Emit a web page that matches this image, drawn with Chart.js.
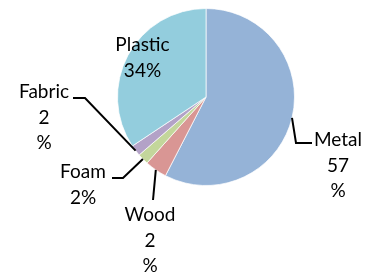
<!DOCTYPE html>
<html><head><meta charset="utf-8">
<script src="https://cdn.jsdelivr.net/npm/chart.js@4/dist/chart.umd.min.js"></script>
<style>html,body{margin:0;padding:0;background:#fff;}#wrap{width:372px;height:273px;}</style>
</head><body><div id="wrap"><canvas id="c" width="372" height="273"></canvas></div>
<script>
const categories = ['Metal', 'Wood', 'Foam', 'Fabric', 'Plastic'];
const values = [57, 4, 2, 2, 34];
const pctLabels = [['Metal', '57', '%'], ['Wood', '2', '%'], ['Foam', '2%'], ['Fabric', '2', '%'], ['Plastic', '34%']];
const colors = ['#95B3D7', '#D99694', '#C3D69B', '#B3A2C7', '#93CDDD'];

// label placement (first line, relative to pie centre) and leader elbow
const labelPos = [
  {x: 132, y: 43, elbow: [{x: 90, y: 46}, {x: 106, y: 46}]},
  {x: -56, y: 118, elbow: [{x: -53, y: 103}]},
  {x: -123, y: 75, elbow: [{x: -83, y: 81}, {x: -94, y: 81}]},
  {x: -162, y: -5, elbow: [{x: -121, y: 1}, {x: -133, y: 1}]},
  {x: -63.5, y: -52, elbow: null}
];

const labelPlugin = {
  id: 'labels',
  afterDatasetsDraw(chart) {
    const ctx = chart.ctx;
    const meta = chart.getDatasetMeta(0);
    ctx.save();
    ctx.font = '19px Lato, "Open Sans", sans-serif';
    ctx.fillStyle = '#000';
    ctx.textAlign = 'center';
    ctx.textBaseline = 'middle';
    meta.data.forEach((arc, i) => {
      const cx = arc.x, cy = arc.y;
      const mid = (arc.startAngle + arc.endAngle) / 2;
      const r = arc.outerRadius;
      const lp = labelPos[i];
      if (lp.elbow) {
        ctx.beginPath();
        ctx.strokeStyle = '#000';
        ctx.lineWidth = 2;
        ctx.moveTo(cx + Math.cos(mid) * r, cy + Math.sin(mid) * r);
        lp.elbow.forEach(p => ctx.lineTo(cx + p.x, cy + p.y));
        ctx.stroke();
      }
      const lines = pctLabels[i];
      const lh = 25.5;
      lines.forEach((t, k) => ctx.fillText(t, cx + lp.x, cy + lp.y + k * lh));
    });
    ctx.restore();
  }
};

new Chart(document.getElementById('c'), {
  type: 'pie',
  data: {
    labels: categories,
    datasets: [{data: values, backgroundColor: colors, borderColor: 'rgba(255,255,255,0.7)', borderWidth: 1}]
  },
  options: {
    responsive: false,
    animation: false,
    layout: {padding: {left: 117, right: 77, top: 8, bottom: 87}},
    plugins: {legend: {display: false}, tooltip: {enabled: false}}
  },
  plugins: [labelPlugin]
});
</script>
</body></html>
